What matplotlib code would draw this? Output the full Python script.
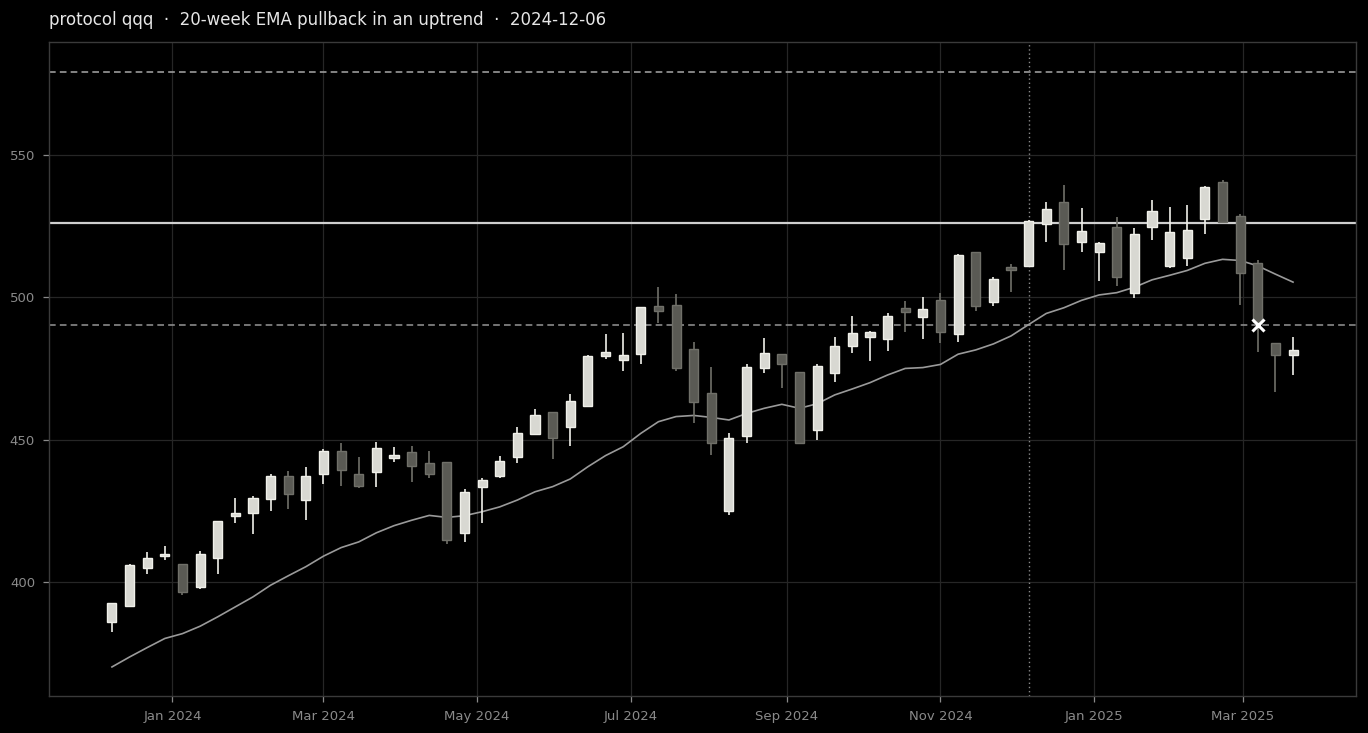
import matplotlib
matplotlib.use("Agg")
import matplotlib.pyplot as plt
import matplotlib.dates as mdates
import numpy as np
import pandas as pd

# ---- data ----
start_date = "2023-12-08"
n_weeks = 68
opens = [386.0, 391.6, 404.8, 409.3, 406.2, 398.1, 408.3, 423.3, 424.3, 429.0,
         437.3, 428.7, 437.8, 445.9, 437.8, 438.7, 443.4, 445.5, 441.7, 442.2,
         417.4, 433.2, 437.3, 444.0, 452.0, 459.6, 454.5, 461.9, 479.5, 478.1,
         480.0, 496.8, 497.2, 481.7, 466.3, 424.8, 451.4, 475.3, 480.0, 473.6,
         453.4, 473.3, 483.0, 485.9, 485.5, 496.1, 493.2, 498.9, 487.0, 515.7,
         498.2, 510.5, 511.1, 525.6, 533.6, 519.5, 515.8, 524.6, 501.4, 524.6,
         511.1, 513.7, 527.4, 540.4, 528.4, 511.9, 483.8, 479.6]
highs = [392.8, 406.5, 410.4, 412.7, 406.2, 411.0, 421.6, 429.6, 430.3, 437.8,
         439.1, 440.5, 446.6, 448.7, 444.0, 449.3, 447.3, 447.7, 446.1, 442.2,
         432.5, 436.4, 444.4, 454.5, 460.6, 459.8, 465.9, 479.7, 487.0, 487.3,
         496.7, 503.5, 501.0, 484.4, 475.6, 452.2, 476.5, 485.6, 480.0, 473.6,
         476.5, 486.2, 493.4, 488.3, 494.6, 498.8, 500.2, 501.4, 515.1, 515.7,
         507.0, 511.6, 527.2, 533.4, 539.5, 531.3, 519.5, 528.1, 524.2, 534.0,
         531.6, 532.4, 539.1, 541.0, 529.2, 512.9, 483.8, 485.9]
lows = [382.5, 391.2, 403.0, 407.7, 395.4, 397.7, 403.0, 420.6, 416.7, 425.1,
        425.5, 421.8, 434.4, 433.7, 432.9, 433.5, 442.2, 435.0, 436.4, 413.3,
        413.9, 420.6, 436.4, 441.7, 451.6, 443.1, 447.9, 461.6, 478.2, 474.1,
        476.5, 490.9, 474.1, 455.7, 444.6, 423.5, 448.7, 473.3, 468.0, 448.3,
        449.9, 470.4, 480.3, 477.6, 481.1, 487.7, 485.2, 483.8, 484.4, 495.0,
        496.9, 502.0, 510.8, 519.3, 509.6, 516.0, 505.8, 504.0, 499.6, 520.1,
        510.2, 511.1, 522.2, 526.3, 497.3, 480.7, 466.8, 472.7]
closes = [392.5, 405.9, 408.6, 410.0, 396.6, 410.0, 421.6, 424.3, 429.4, 437.3,
          430.8, 437.1, 445.9, 439.2, 433.9, 446.9, 444.6, 440.6, 438.1, 414.6,
          431.5, 436.0, 442.4, 452.2, 458.5, 450.7, 463.4, 479.5, 480.7, 479.6,
          496.5, 495.0, 475.3, 463.1, 448.7, 450.7, 475.4, 480.3, 476.5, 448.7,
          475.9, 482.9, 487.3, 487.7, 493.5, 494.7, 495.8, 487.7, 514.7, 496.9,
          506.3, 509.7, 526.9, 530.9, 518.6, 523.1, 519.0, 507.2, 522.1, 530.1,
          522.8, 523.5, 538.6, 526.3, 508.4, 491.4, 479.6, 481.4]
ema20 = [370.2, 373.7, 377.0, 380.2, 381.9, 384.5, 387.8, 391.3, 394.8, 398.9,
         402.2, 405.4, 409.1, 412.1, 414.1, 417.3, 419.8, 421.7, 423.4, 422.7,
         423.3, 424.7, 426.4, 428.8, 431.7, 433.5, 436.2, 440.5, 444.4, 447.5,
         452.2, 456.3, 458.1, 458.5, 457.8, 456.9, 459.2, 461.0, 462.4, 461.0,
         462.6, 465.7, 467.8, 470.0, 472.7, 475.0, 475.3, 476.4, 480.0, 481.5,
         483.6, 486.4, 490.4, 494.3, 496.3, 498.9, 500.8, 501.6, 503.5, 506.1,
         507.7, 509.4, 511.9, 513.3, 512.9, 511.0, 508.1, 505.3]
target_level = 579.2
resistance_level = 526.1
entry_level = 490.2
signal_date = "2024-12-06"
entry_date = "2025-03-07"
title_text = "protocol qqq  ·  20-week EMA pullback in an uptrend  ·  2024-12-06"

# ---- style ----
BG = "#000000"
GRID = "#262626"
SPINE = "#3a3a3a"
TICK = "#8a8a8a"
UP_FILL = "#d8d8d2"
UP_EDGE = "#f0f0ea"
DN_FILL = "#5a5a54"
DN_EDGE = "#707069"

dates = pd.date_range(start_date, periods=n_weeks, freq="W-FRI")
x = mdates.date2num(dates.to_pydatetime())
o = np.array(opens); h = np.array(highs); l = np.array(lows); c = np.array(closes)
up = c >= o

fig = plt.figure(figsize=(13.68, 7.33), dpi=100, facecolor=BG)
ax = fig.add_axes([49/1368, 1-696/733, (1356-49)/1368, (696-42)/733])
ax.set_facecolor(BG)

ax.grid(True, color=GRID, linewidth=0.9)
ax.set_axisbelow(True)

# horizontal levels
ax.axhline(target_level, color="#9a9a9a", linestyle=(0, (4, 2.5)), linewidth=1.2, zorder=2)
ax.axhline(resistance_level, color="#cfcfcf", linestyle="-", linewidth=1.6, zorder=2)
ax.axhline(entry_level, color="#8a8a8a", linestyle=(0, (4, 2.5)), linewidth=1.2, zorder=2)
ax.axvline(mdates.date2num(pd.Timestamp(signal_date)), color="#8a8a8a",
           linestyle=(0, (1, 2)), linewidth=1.0, zorder=2)

# EMA
ax.plot(x, ema20, color="#9a9a9a", linewidth=1.2, zorder=3)

# candles
w = 3.6
for cond, fill, edge in [(up, UP_FILL, UP_EDGE), (~up, DN_FILL, DN_EDGE)]:
    xs = x[cond]
    ax.vlines(xs, l[cond], h[cond], color=edge, linewidth=1.2, zorder=4)
    bottoms = np.minimum(o[cond], c[cond])
    heights = np.maximum(np.abs(c[cond] - o[cond]), 0.5)
    ax.bar(xs, heights, bottom=bottoms, width=w, color=fill, edgecolor=edge,
           linewidth=1.0, zorder=5)

# entry marker
ax.plot(mdates.date2num(pd.Timestamp(entry_date)), entry_level, marker="x",
        color="#ffffff", markersize=9, markeredgewidth=2.2, zorder=6)

# axes
ax.set_xlim(mdates.date2num(pd.Timestamp("2023-11-13")),
            mdates.date2num(pd.Timestamp("2025-04-15")))
ax.set_ylim(360, 589.6)
ax.xaxis.set_major_locator(mdates.MonthLocator(bymonth=[1, 3, 5, 7, 9, 11]))
ax.xaxis.set_major_formatter(mdates.DateFormatter("%b %Y"))
ax.set_yticks([400, 450, 500, 550])
ax.tick_params(colors=TICK, labelsize=9.5, length=4, width=0.9, pad=6)
for t in ax.get_xticklabels() + ax.get_yticklabels():
    t.set_color(TICK)
for s in ax.spines.values():
    s.set_color(SPINE)
    s.set_linewidth(1.0)

fig.text(49/1368, 1-20/733, title_text, color="#e6e6e6", fontsize=12,
         ha="left", va="center")

fig.savefig("out.png", dpi=100, facecolor=BG)
